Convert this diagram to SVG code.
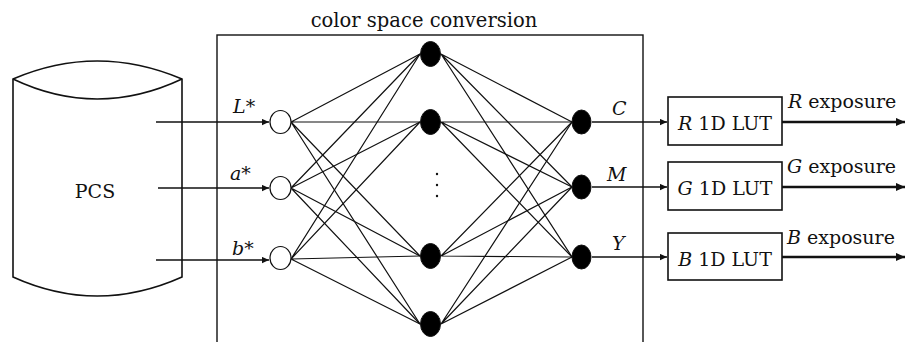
<svg xmlns="http://www.w3.org/2000/svg" width="906" height="342" viewBox="0 0 906 342">
<style>
text{font-family:"DejaVu Serif","Liberation Serif",serif;fill:#111}
.it{font-style:italic}
.ln{stroke:#111;stroke-width:1.2;fill:none}
.ar{stroke:#111;stroke-width:1.4;fill:none}
.th{stroke:#111;stroke-width:2.6;fill:none}
.bx{stroke:#111;stroke-width:1.6;fill:#fff}
.in{stroke:#111;stroke-width:1.2;fill:#fff}
.hd{stroke:#111;stroke-width:1;fill:#000}
</style>
<defs>
<marker id="ah" viewBox="0 0 10 10" refX="10" refY="5" markerWidth="7" markerHeight="7" markerUnits="userSpaceOnUse" orient="auto"><path d="M0,0.5 L10,5 L0,9.5 Z" fill="#111"/></marker>
<marker id="ah2" viewBox="0 0 10 10" refX="10" refY="5" markerWidth="9" markerHeight="9" markerUnits="userSpaceOnUse" orient="auto"><path d="M0,0.5 L10,5 L0,9.5 Z" fill="#111"/></marker>
</defs>
<rect width="906" height="342" fill="#fff"/>
<g id="pcs">
<path class="bx" d="M13,79 Q97,43 182,79 L182,277 Q97,315 13,277 Z"/>
<path class="bx" d="M13,79 Q97,119 182,79"/>
<text x="95" y="198" font-size="19" text-anchor="middle">PCS</text>
</g>
<g id="conversion-box">
<rect x="217" y="35" width="426" height="320" fill="none" stroke="#111" stroke-width="1.4"/>
<text x="424" y="27" font-size="19.5" text-anchor="middle">color space conversion</text>
</g>
<g id="connectors">
<path class="ar" d="M156,122 H269" marker-end="url(#ah)"/>
<path class="ar" d="M158,188 H269" marker-end="url(#ah)"/>
<path class="ar" d="M156,260 H269" marker-end="url(#ah)"/>
<g class="ln">
<path d="M291,122 L420,54 M291,122 L420,122 M291,122 L420,256 M291,122 L420,324"/>
<path d="M291,188 L420,54 M291,188 L420,122 M291,188 L420,256 M291,188 L420,324"/>
<path d="M291,259 L420,54 M291,259 L420,122 M291,259 L420,256 M291,259 L420,324"/>
<path d="M441,54 L572,122 M441,54 L572,187 M441,54 L572,257"/>
<path d="M441,122 L572,122 M441,122 L572,187 M441,122 L572,257"/>
<path d="M441,256 L572,122 M441,256 L572,187 M441,256 L572,257"/>
<path d="M441,324 L572,122 M441,324 L572,187 M441,324 L572,257"/>
</g>
<path class="ar" d="M592,122 H667" marker-end="url(#ah)"/>
<path class="ar" d="M592,187 H667" marker-end="url(#ah)"/>
<path class="ar" d="M592,257 H667" marker-end="url(#ah)"/>
<path class="th" d="M782,122 H905" marker-end="url(#ah2)"/>
<path class="th" d="M782,187 H905" marker-end="url(#ah2)"/>
<path class="th" d="M782,257 H905" marker-end="url(#ah2)"/>
</g>
<g id="input-L"><ellipse class="in" cx="280.5" cy="122" rx="10.5" ry="11.5"/><text x="233" y="113" font-size="19"><tspan class="it">L</tspan>*</text></g>
<g id="input-a"><ellipse class="in" cx="280.5" cy="188" rx="10.5" ry="11.5"/><text x="230" y="180" font-size="19"><tspan class="it">a</tspan>*</text></g>
<g id="input-b"><ellipse class="in" cx="280.5" cy="258" rx="10.5" ry="11.5"/><text x="232" y="255" font-size="19"><tspan class="it">b</tspan>*</text></g>
<g id="hidden-1"><ellipse class="hd" cx="430.5" cy="54" rx="10" ry="12.5"/></g>
<g id="hidden-2"><ellipse class="hd" cx="430.5" cy="122" rx="10" ry="12.5"/></g>
<g id="hidden-dots"><circle cx="437" cy="174" r="1.2" fill="#111"/><circle cx="437" cy="185" r="1.2" fill="#111"/><circle cx="437" cy="196" r="1.2" fill="#111"/></g>
<g id="hidden-3"><ellipse class="hd" cx="430.5" cy="256" rx="10" ry="12.5"/></g>
<g id="hidden-4"><ellipse class="hd" cx="430.5" cy="324" rx="10" ry="12.5"/></g>
<g id="output-C"><ellipse class="hd" cx="581.5" cy="122" rx="9.5" ry="12"/><text x="612" y="115" font-size="19" class="it">C</text></g>
<g id="output-M"><ellipse class="hd" cx="581.5" cy="187" rx="9.5" ry="12"/><text x="607" y="181" font-size="19" class="it">M</text></g>
<g id="output-Y"><ellipse class="hd" cx="581.5" cy="257" rx="9.5" ry="12"/><text x="612" y="250" font-size="19" class="it">Y</text></g>
<g id="lut-R"><rect class="bx" x="668" y="97" width="114" height="48"/><text x="725" y="130" font-size="19" text-anchor="middle"><tspan class="it">R</tspan> 1D LUT</text><text x="788" y="108" font-size="19"><tspan class="it">R</tspan> exposure</text></g>
<g id="lut-G"><rect class="bx" x="668" y="162" width="114" height="48"/><text x="725" y="195" font-size="19" text-anchor="middle"><tspan class="it">G</tspan> 1D LUT</text><text x="787" y="173" font-size="19"><tspan class="it">G</tspan> exposure</text></g>
<g id="lut-B"><rect class="bx" x="668" y="233" width="114" height="47"/><text x="725" y="266" font-size="19" text-anchor="middle"><tspan class="it">B</tspan> 1D LUT</text><text x="787" y="244" font-size="19"><tspan class="it">B</tspan> exposure</text></g>
</svg>
